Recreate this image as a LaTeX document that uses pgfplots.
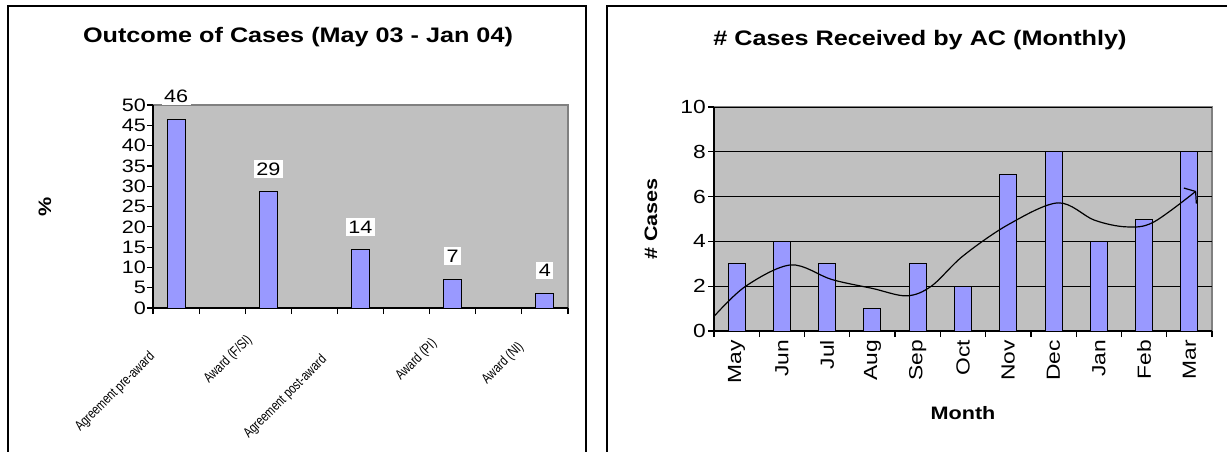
\documentclass[border=0pt]{standalone}
\usepackage{pgfplots}
\pgfplotsset{compat=1.18}
\usepackage{fontspec}
\setmainfont{Liberation Sans}
\newfontfamily\wide{Liberation Sans}[FakeStretch=1.2]
\newfontfamily\narrow{Liberation Sans}[FakeStretch=0.78]
\usetikzlibrary{arrows.meta}
\definecolor{bargray}{HTML}{C0C0C0}
\definecolor{barblue}{HTML}{9999FF}
\definecolor{framegray}{HTML}{808080}

\pgfplotstableread{
x  y
1  46.4
3  28.6
5  14.3
7  7.1
9  3.6
}\outcome

\pgfplotstableread{
x  y
1  3
2  4
3  3
4  1
5  3
6  2
7  7
8  8
9  4
10 5
11 8
}\monthly

\begin{document}
\begin{tikzpicture}
\useasboundingbox (0,0) rectangle (1227pt,451pt);
\fill[white] (0,0) rectangle (1227pt,451pt);
% panel frames
\draw[line width=2pt] (8pt,-2pt) -- (8pt,445pt) -- (586pt,445pt) -- (586pt,-2pt);
\draw[line width=2pt] (607pt,-2pt) -- (607pt,445pt) -- (1230pt,445pt);
% titles
\node[font=\wide\bfseries\fontsize{21}{23}\selectfont] at (298pt,414pt) {Outcome of Cases (May 03 - Jan 04)};
\node[font=\wide\bfseries\fontsize{21}{23}\selectfont] at (920pt,411pt) {\# Cases Received by AC (Monthly)};

% ---------- left chart ----------
\begin{axis}[
  at={(153pt,143pt)}, anchor=south west,
  scale only axis, width=415pt, height=203pt,
  xmin=0.5, xmax=9.5, ymin=0, ymax=50,
  axis lines*=left,
  axis line style={black, line width=1.2pt},
  axis background/.style={fill=bargray, draw=framegray, line width=1.2pt},
  ytick={0,5,...,50},
  xtick={0.5,1.5,...,9.5}, xticklabels={},
  tick align=outside, major tick length=6pt,
  tick style={black, line width=1.2pt},
  /pgf/number format/assume math mode=true,
  yticklabel style={font=\wide\fontsize{18}{18}\selectfont, inner sep=1pt},
  ylabel={\%},
  every axis y label/.style={at={(rel axis cs:0,0.5)}, xshift=-108pt, rotate=90, font=\wide\bfseries\fontsize{18}{18}\selectfont},
  clip=false,
]
\addplot[ybar, bar width=18pt, fill=barblue, draw=black, line width=1pt,
  nodes near coords={\pgfmathprintnumber[fixed,precision=0]{\pgfplotspointmeta}},
  every node near coord/.append style={fill=white, anchor=center, yshift=23pt, inner sep=2.5pt, font=\wide\fontsize{18}{18}\selectfont, text=black}
] table[x=x,y=y] {\outcome};
\node[rotate=45, anchor=north east, inner sep=0pt, font=\narrow\fontsize{14}{14}\selectfont] at (axis cs:0.39,-10.3) {Agreement pre-award};
\node[rotate=45, anchor=north east, inner sep=0pt, font=\narrow\fontsize{14}{14}\selectfont] at (axis cs:2.50,-6.2) {Award (F/SI)};
\node[rotate=45, anchor=north east, inner sep=0pt, font=\narrow\fontsize{14}{14}\selectfont] at (axis cs:4.12,-11.1) {Agreement post-award};
\node[rotate=45, anchor=north east, inner sep=0pt, font=\narrow\fontsize{14}{14}\selectfont] at (axis cs:6.51,-7.1) {Award (PI)};
\node[rotate=45, anchor=north east, inner sep=0pt, font=\narrow\fontsize{14}{14}\selectfont] at (axis cs:8.39,-7.9) {Award (NI)};
\end{axis}

% ---------- right chart ----------
\begin{axis}[
  at={(714pt,120pt)}, anchor=south west,
  scale only axis, width=498pt, height=224pt,
  xmin=0.5, xmax=11.5, ymin=0, ymax=10,
  axis lines*=left,
  axis line style={black, line width=1.2pt},
  axis background/.style={fill=bargray, draw=framegray, line width=1.2pt},
  ytick={0,2,...,10},
  ymajorgrids, grid style={black, line width=0.8pt},
  xtick={0.5,1.5,...,11.5}, xticklabels={},
  extra x ticks={1,...,11},
  extra x tick labels={May,Jun,Jul,Aug,Sep,Oct,Nov,Dec,Jan,Feb,Mar},
  extra x tick style={tick style={draw=none}, grid=none, xticklabel style={rotate=90, anchor=east, font=\wide\fontsize{19}{19}\selectfont, inner sep=3pt}},
  tick align=outside, major tick length=6pt,
  tick style={black, line width=1.2pt},
  /pgf/number format/assume math mode=true,
  yticklabel style={font=\wide\fontsize{19}{19}\selectfont, inner sep=2pt},
  ylabel={\# Cases},
  every axis y label/.style={at={(rel axis cs:0,0.5)}, xshift=-63pt, rotate=90, font=\wide\bfseries\fontsize{18}{18}\selectfont},
  xlabel={Month},
  every axis x label/.style={at={(rel axis cs:0.5,0)}, yshift=-82pt, font=\wide\bfseries\fontsize{18}{18}\selectfont},
]
\addplot[ybar, bar width=17pt, fill=barblue, draw=black, line width=1pt] table[x=x,y=y] {\monthly};
\addplot[smooth, tension=0.55, black, line width=1.2pt, -{Straight Barb[length=7pt,width=20pt,line width=1.2pt]}] coordinates {
(0.5,0.65) (1.2,2.0) (2.2,2.95) (3.1,2.3) (4.0,1.9) (4.75,1.57) (5.3,2.0) (6.0,3.35) (7.0,4.75) (8.1,5.72) (8.9,4.95) (9.6,4.65) (10.2,4.85) (11.15,6.25)
};
\end{axis}
\end{tikzpicture}
\end{document}
